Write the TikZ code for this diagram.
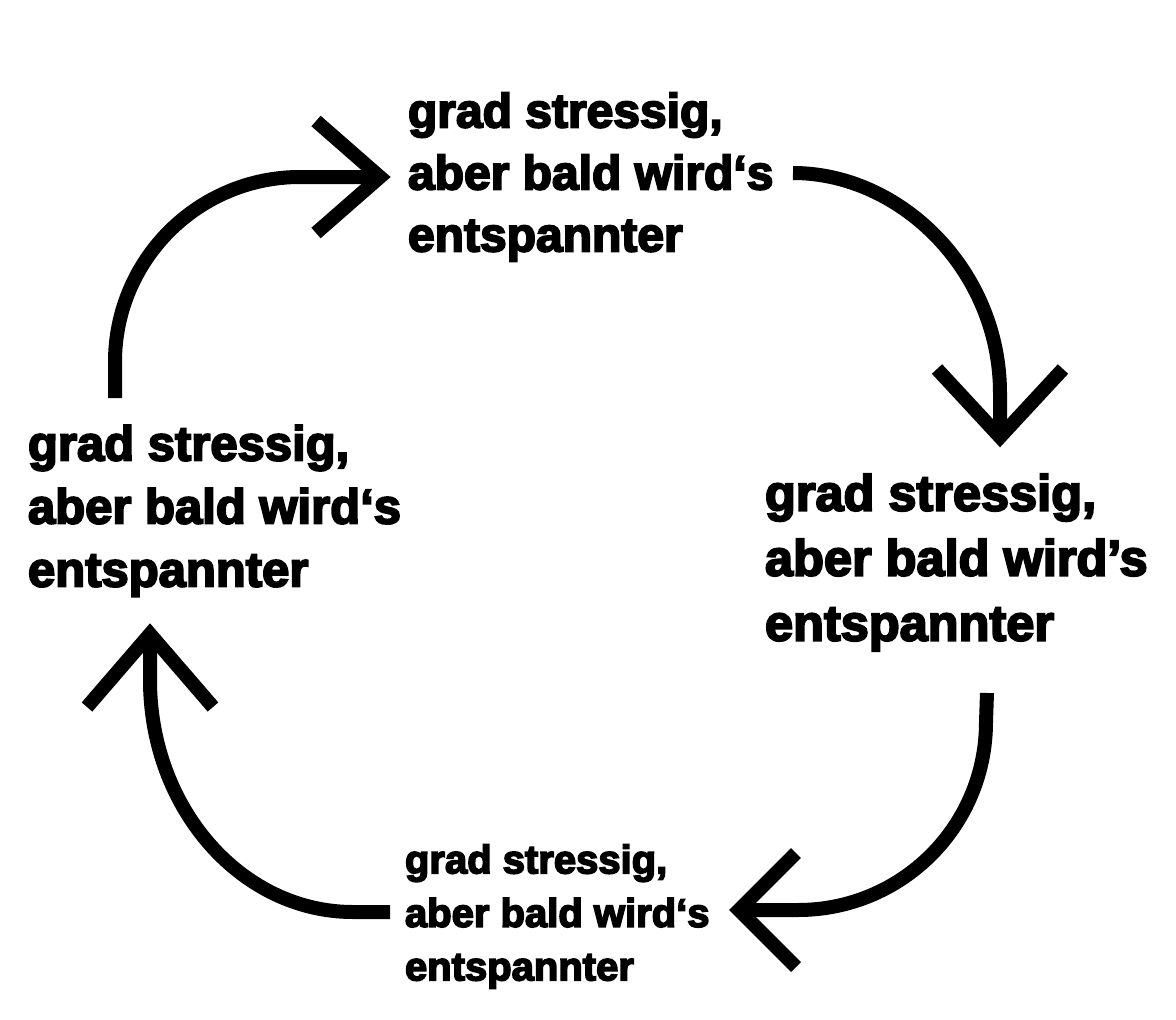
\documentclass[tikz,border=0pt]{standalone}
\usepackage{fontspec}
\setmainfont{Liberation Sans}[BoldFeatures={FakeBold=4}]
\begin{document}
\begin{tikzpicture}[x=1pt,y=-1pt,
  shaft/.style={line width=14pt, line cap=butt, draw=black},
  head/.style={line width=14pt, line cap=butt, line join=miter, draw=black},
  lbl/.style={anchor=north west, inner sep=0pt, outer sep=0pt, align=left, text=black}]
\useasboundingbox[fill=white] (0,0) rectangle (1176,1020);

% text blocks
\node[lbl, font=\bfseries\fontsize{48}{62}\selectfont] (top) at (408,92.6)
  {grad stressig,\\aber bald wird‘s\\entspannter};
\node[lbl, font=\bfseries\fontsize{50.5}{65}\selectfont] (right) at (765,474)
  {grad stressig,\\aber bald wird’s\\entspannter};
\node[lbl, font=\bfseries\fontsize{40}{53.5}\selectfont] (bottom) at (405,844.4)
  {grad stressig,\\aber bald wird‘s\\entspannter};
\node[lbl, font=\bfseries\fontsize{49}{63}\selectfont] (left) at (28,425)
  {grad stressig,\\aber bald wird‘s\\entspannter};

% arrow end points
\coordinate (s1) at (115,398);  \coordinate (t1) at (380,177);
\coordinate (s2) at (793,173);  \coordinate (t2) at (1000,437);
\coordinate (s3) at (987,693);  \coordinate (t3) at (739,910);
\coordinate (s4) at (390,912);  \coordinate (t4) at (150,634);

% arrow 1: left -> top
\draw[shaft] (s1) -- (115,362) .. controls (115,260) and (198,177) .. (300,177) -- (t1);
\draw[head] (t1) ++(-64,-56) -- (t1) -- ++(-64,56);

% arrow 2: top -> right
\draw[shaft] (s2) .. controls (901,173) and (1000,271) .. (1000,393) -- (t2);
\draw[head] (t2) ++(-63,-68) -- (t2) -- ++(63,-68);

% arrow 3: right -> bottom
\draw[shaft] (s3) -- (986,722) .. controls (986,826) and (902,910) .. (798,910) -- (t3);
\draw[head] (t3) ++(57,-57) -- (t3) -- ++(57,57);

% arrow 4: bottom -> left
\draw[shaft] (s4) -- (353,912) .. controls (241,912) and (150,808) .. (150,680) -- (t4);
\draw[head] (t4) ++(-63,73) -- (t4) -- ++(63,73);
\end{tikzpicture}
\end{document}
